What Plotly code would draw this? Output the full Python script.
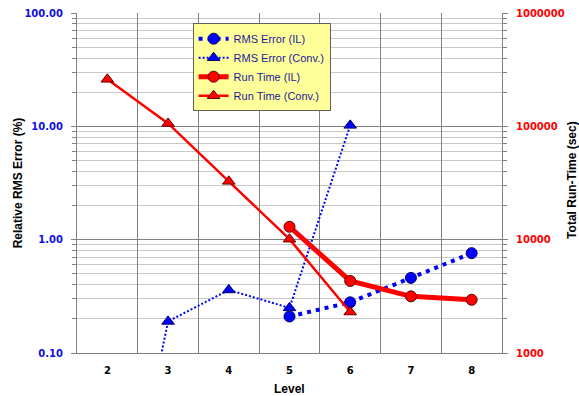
import plotly.graph_objects as go

levels = ["2", "3", "4", "5", "6", "7", "8"]

rms_il_levels = ["5", "6", "7", "8"]
rms_il = [0.21, 0.28, 0.46, 0.76]

rms_conv_levels = ["2", "3", "4", "5", "6"]
rms_conv = [0.0005, 0.19, 0.36, 0.25, 10.2]

run_il_levels = ["5", "6", "7", "8"]
run_il = [13000, 4320, 3160, 2950]

run_conv_levels = ["2", "3", "4", "5", "6"]
run_conv = [260000, 106000, 32700, 10100, 2300]

left_ticks = [0.1, 1, 10, 100]
left_ticktext = ["0.10", "1.00", "10.00", "100.00"]
right_ticks = [1000, 10000, 100000, 1000000]
right_ticktext = ["1000", "10000", "100000", "1000000"]

def minor_vals(lo_exp, hi_exp):
    out = []
    for e in range(lo_exp, hi_exp):
        for m in range(2, 10):
            out.append(m * 10 ** e)
    return out

BLUE = "#0000FF"
RED = "#FF0000"

fig = go.Figure()
fig.add_trace(go.Scatter(
    x=rms_il_levels, y=rms_il, name="RMS Error (IL)", mode="lines+markers",
    line=dict(color=BLUE, width=4, dash="4px,5px"),
    marker=dict(symbol="circle", size=11, color=BLUE, line=dict(color="#000060", width=1)),
))
fig.add_trace(go.Scatter(
    x=rms_conv_levels, y=rms_conv, name="RMS Error (Conv.)", mode="lines+markers",
    line=dict(color=BLUE, width=2, dash="2px,2px"),
    marker=dict(symbol="triangle-up", size=11, color=BLUE, line=dict(color="#000060", width=1)),
))
fig.add_trace(go.Scatter(
    x=run_il_levels, y=run_il, name="Run Time (IL)", mode="lines+markers", yaxis="y2",
    line=dict(color=RED, width=5),
    marker=dict(symbol="circle", size=11, color=RED, line=dict(color="#600000", width=1)),
))
fig.add_trace(go.Scatter(
    x=run_conv_levels, y=run_conv, name="Run Time (Conv.)", mode="lines+markers", yaxis="y2",
    line=dict(color=RED, width=2.5),
    marker=dict(symbol="triangle-up", size=11, color=RED, line=dict(color="#600000", width=1)),
))

tickfont_base = dict(family="DejaVu Sans", size=10, weight="bold")
title_font = dict(family="Liberation Sans", size=12, weight="bold", color="black")

fig.update_layout(
    width=579, height=396,
    margin=dict(l=77, r=77, t=13, b=43, autoexpand=False),
    paper_bgcolor="white", plot_bgcolor="white",
    showlegend=True,
    legend=dict(
        x=0.272, y=0.97, xanchor="left", yanchor="top",
        bgcolor="#FFFF99", bordercolor="#606060", borderwidth=1,
        font=dict(family="Liberation Sans", size=11, color="#1a1a9a"),
        tracegroupgap=0, itemwidth=30,
    ),
    xaxis=dict(
        type="category", categoryorder="array", categoryarray=levels,
        range=[-0.5, 6.5], tickson="boundaries", ticks="", automargin=False,
        showgrid=True, gridcolor="#808080", gridwidth=1,
        showline=True, linecolor="#808080", linewidth=1,
        ticklabelstandoff=8,
        tickfont=dict(family="DejaVu Sans", size=10, weight="bold", color="black"),
        zeroline=False,
    ),
    yaxis=dict(
        type="log", range=[-1, 2], automargin=False,
        tickvals=left_ticks, ticktext=left_ticktext,
        ticks="outside", ticklen=5, tickcolor="#808080", ticklabelstandoff=6,
        showgrid=True, gridcolor="#808080", gridwidth=1,
        showline=True, linecolor="#808080", linewidth=1,
        tickfont=dict(tickfont_base, color="#1010E0"),
        minor=dict(tickvals=minor_vals(-1, 2), ticks="outside", ticklen=4, tickcolor="#808080",
                   showgrid=True, gridcolor="#C8C8C8", gridwidth=1),
        zeroline=False,
    ),
    yaxis2=dict(
        type="log", range=[3, 6], overlaying="y", side="right", automargin=False,
        tickvals=right_ticks, ticktext=right_ticktext,
        ticks="outside", ticklen=5, tickcolor="#808080", ticklabelstandoff=6,
        showgrid=False,
        showline=True, linecolor="#808080", linewidth=1,
        tickfont=dict(tickfont_base, color=RED),
        minor=dict(tickvals=minor_vals(3, 6), ticks="outside", ticklen=4, tickcolor="#808080", showgrid=False),
        zeroline=False,
    ),
    annotations=[
        dict(text="Level", xref="paper", yref="paper", x=0.5, y=-0.105,
             xanchor="center", yanchor="middle", showarrow=False, font=title_font),
        dict(text="Relative RMS Error (%)", xref="paper", yref="paper", x=-0.138, y=0.5,
             xanchor="center", yanchor="middle", textangle=-90, showarrow=False, font=title_font),
        dict(text="Total Run-Time (sec)", xref="paper", yref="paper", x=1.163, y=0.51,
             xanchor="center", yanchor="middle", textangle=-90, showarrow=False, font=title_font),
    ],
)

fig.write_html("out.html")
